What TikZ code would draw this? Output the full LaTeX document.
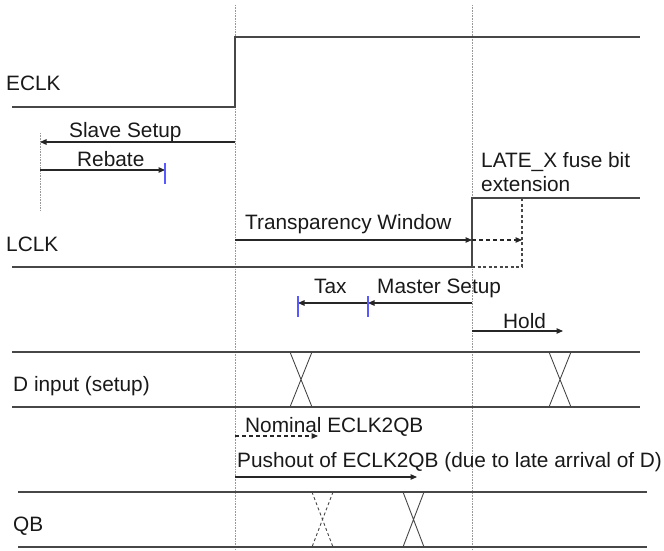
\documentclass[tikz,border=0pt]{standalone}
\usepackage{fontspec}
\setmainfont{Liberation Sans}
\usetikzlibrary{arrows.meta}
\begin{document}
\begin{tikzpicture}[x=1bp,y=-1bp,
  sig/.style={draw=black!72, line width=1.1bp},
  guide/.style={draw=black!40, line width=0.9bp, dash pattern=on 0.8bp off 0.8bp},
  dim/.style={draw=black!85, line width=1.1bp, -{Triangle[length=6.5bp,width=5.5bp]}},
  dimdash/.style={dim, dash pattern=on 4bp off 3bp},
  bluetick/.style={draw=blue!65, line width=1.2bp},
  lbl/.style={anchor=base west, inner sep=0, text=black!90, font=\fontsize{20.9}{24}\selectfont}]
\useasboundingbox (0,0) rectangle (664,551);

% guides
\coordinate (gAt) at (235,5);   \coordinate (gAb) at (235,551);
\coordinate (gBt) at (472,5);   \coordinate (gBb) at (472,551);
\coordinate (gCt) at (40,133);  \coordinate (gCb) at (40,211);
\draw[guide] (gAt) -- (gAb);
\draw[guide] (gBt) -- (gBb);
\draw[guide] (gCt) -- (gCb);

% ECLK
\coordinate (e0) at (12,107); \coordinate (e1) at (235,107);
\coordinate (e2) at (235,37); \coordinate (e3) at (640,37);
\draw[sig] (e0) -- (e1) -- (e2) -- (e3);

% LCLK
\coordinate (l0) at (12,267); \coordinate (l1) at (472,267);
\coordinate (l2) at (472,198); \coordinate (l3) at (640,198);
\coordinate (l4) at (522,267); \coordinate (l5) at (522,198);
\draw[sig] (l0) -- (l1) -- (l2) -- (l3);
\draw[sig, dash pattern=on 3bp off 2.5bp] (l1) -- (l4) -- (l5);

% D input
\coordinate (d0) at (12,352); \coordinate (d1) at (640,352);
\coordinate (d2) at (12,407); \coordinate (d3) at (640,407);
\draw[sig] (d0) -- (d1);
\draw[sig] (d2) -- (d3);
\coordinate (dx1a) at (290,352); \coordinate (dx1b) at (312,407);
\coordinate (dx1c) at (312,352); \coordinate (dx1d) at (290,407);
\draw[sig, line width=0.9bp] (dx1a) -- (dx1b) (dx1c) -- (dx1d);
\coordinate (dx2a) at (549,352); \coordinate (dx2b) at (571,407);
\coordinate (dx2c) at (571,352); \coordinate (dx2d) at (549,407);
\draw[sig, line width=0.9bp] (dx2a) -- (dx2b) (dx2c) -- (dx2d);

% QB
\coordinate (q0) at (18,492); \coordinate (q1) at (647,492);
\coordinate (q2) at (18,547); \coordinate (q3) at (647,547);
\draw[sig] (q0) -- (q1);
\draw[sig] (q2) -- (q3);
\coordinate (qx1a) at (312,492); \coordinate (qx1b) at (333,547);
\coordinate (qx1c) at (333,492); \coordinate (qx1d) at (312,547);
\draw[sig, line width=0.9bp, dash pattern=on 3bp off 2.5bp] (qx1a) -- (qx1b) (qx1c) -- (qx1d);
\coordinate (qx2a) at (403,492); \coordinate (qx2b) at (424,547);
\coordinate (qx2c) at (424,492); \coordinate (qx2d) at (403,547);
\draw[sig, line width=0.9bp] (qx2a) -- (qx2b) (qx2c) -- (qx2d);

% timing arrows
\coordinate (ss0) at (235,142); \coordinate (ss1) at (40,142);
\draw[dim] (ss0) -- (ss1);
\coordinate (rb0) at (40,170); \coordinate (rb1) at (165,170);
\draw[dim] (rb0) -- (rb1);
\coordinate (rbt0) at (165,163); \coordinate (rbt1) at (165,184);
\draw[bluetick] (rbt0) -- (rbt1);

\coordinate (tw0) at (235,240); \coordinate (tw1) at (472,240); \coordinate (tw2) at (522,240);
\draw[dim] (tw0) -- (tw1);
\draw[dimdash] (tw1) -- (tw2);

\coordinate (ms0) at (472,303); \coordinate (ms1) at (368,303); \coordinate (tx1) at (298,303);
\draw[dim] (ms0) -- (ms1);
\draw[dim] (ms1) -- (tx1);
\coordinate (t1a) at (298,296); \coordinate (t1b) at (298,317);
\coordinate (t2a) at (368,296); \coordinate (t2b) at (368,317);
\draw[bluetick] (t1a) -- (t1b);
\draw[bluetick] (t2a) -- (t2b);

\coordinate (h0) at (472,331); \coordinate (h1) at (563,331);
\draw[dim] (h0) -- (h1);

\coordinate (n0) at (235,436); \coordinate (n1) at (318,436);
\draw[dimdash] (n0) -- (n1);
\coordinate (p0) at (235,477); \coordinate (p1) at (417,477);
\draw[dim] (p0) -- (p1);

% labels
\node[lbl] (tECLK) at (6,91) {ECLK};
\node[lbl] (tSS) at (69,138) {Slave Setup};
\node[lbl] (tRB) at (77,167) {Rebate};
\node[lbl] (tTW) at (245,230) {Transparency Window};
\node[lbl] (tLCLK) at (6,252) {LCLK};
\node[lbl] (tLX1) at (481,168) {LATE\_X fuse bit};
\node[lbl] (tLX2) at (481,192) {extension};
\node[lbl] (tTax) at (314,293) {Tax};
\node[lbl] (tMS) at (377,293) {Master Setup};
\node[lbl] (tHold) at (503,328) {Hold};
\node[lbl] (tD) at (13,391) {D input (setup)};
\node[lbl] (tNom) at (245,432) {Nominal ECLK2QB};
\node[lbl] (tPush) at (237,467) {Pushout of ECLK2QB (due to late arrival of D)};
\node[lbl] (tQB) at (13,531) {QB};
\end{tikzpicture}
\end{document}
